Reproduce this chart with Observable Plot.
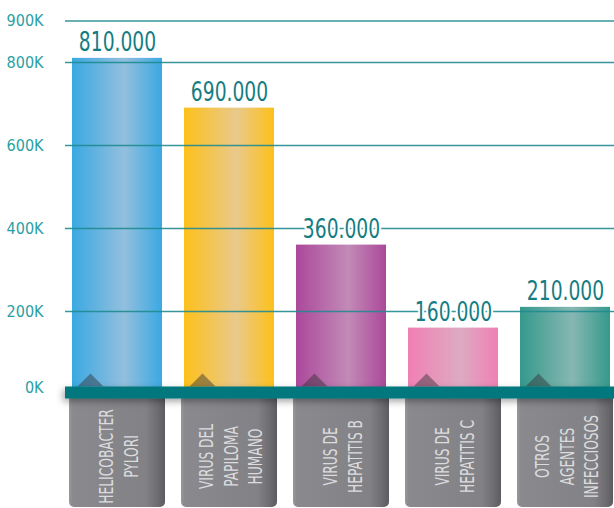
<!DOCTYPE html>
<html><head><meta charset="utf-8">
<script src="https://cdn.jsdelivr.net/npm/d3@7"></script>
<script src="https://cdn.jsdelivr.net/npm/@observablehq/plot@0.6"></script>
<style>body{margin:0;background:#fff} svg{display:block}</style>
</head><body><div id="chart"></div>
<script>
const categories = ["HELICOBACTER\nPYLORI", "VIRUS DEL\nPAPILOMA\nHUMANO", "VIRUS DE\nHEPATITIS B", "VIRUS DE\nHEPATITIS C", "OTROS\nAGENTES\nINFECCIOSOS"];
const values = [810000, 690000, 360000, 160000, 210000];
const valueLabels = ["810.000", "690.000", "360.000", "160.000", "210.000"];
const yTicks = [0, 200000, 400000, 600000, 800000, 900000];
const yTickLabels = ["0K", "200K", "400K", "600K", "800K", "900K"];
const barEdgeColors = ["#3aa9e2", "#fdc01a", "#ac489b", "#f07fb4", "#34998c"];
const barCenterColors = ["#93bfdd", "#e9c98c", "#c28ab6", "#ddabc2", "#87b7b2"];

const data = categories.map((c, i) => ({name: c, value: values[i], label: valueLabels[i], grad: `url(#barGrad${i})`}));
const ticks = yTicks.map((t, i) => ({t, label: yTickLabels[i]}));

const FONT = "'DejaVu Sans Condensed','Liberation Sans Narrow',sans-serif";
const BOX_BOTTOM = -272000; // decorative label tabs extend below the baseline

const flatTriangle = {
  draw(context, size) {
    const r = Math.sqrt(size / Math.PI);
    context.moveTo(0, -r);
    context.lineTo(2 * r, r);
    context.lineTo(-2 * r, r);
    context.closePath();
  }
};

const svg = Plot.plot({
  width: 614,
  height: 508,
  marginLeft: 65,
  marginRight: 0,
  marginTop: 0,
  marginBottom: 0,
  style: {fontFamily: FONT, background: "#fff"},
  x: {type: "band", domain: categories, range: [61, 621], paddingInner: 0.2, paddingOuter: 0.1, axis: null},
  y: {domain: [0, 900000], range: [394, 20.5], axis: null},
  color: {type: "identity"},
  marks: [
    Plot.barY(data, {x: "name", y1: 0, y2: () => BOX_BOTTOM, fill: "url(#boxGrad)", insetLeft: -3, insetRight: -3, rx: 5}),
    Plot.barY(data, {x: "name", y: "value", fill: "grad"}),
    Plot.dot(data, {x: "name", y: 0, symbol: flatTriangle, r: 6.5, dx: -27, dy: -14.5, fill: "#2f2f33", fillOpacity: 0.45, stroke: null}),
    Plot.ruleY(yTicks.filter(t => t > 0), {stroke: "#1f8b90", strokeWidth: 1.3, strokeOpacity: 0.9}),
    Plot.ruleY([0], {stroke: "#00787e", strokeWidth: 12, dy: -2, ariaDescription: "band"}),
    Plot.text(ticks.filter(d => d.t > 0), {y: "t", text: "label", frameAnchor: "left", textAnchor: "end", dx: -22, fill: "#2aa0a4", fontSize: 16}),
    Plot.text(ticks.filter(d => d.t === 0), {y: "t", text: "label", frameAnchor: "left", textAnchor: "end", dx: -22, dy: -7, fill: "#2aa0a4", fontSize: 16}),
    Plot.text(data, {x: "name", y: "value", text: "label", lineAnchor: "bottom", dy: -7, fill: "#147c82", fontSize: 26, stroke: "white", strokeWidth: 5, ariaDescription: "value-labels"}),
    Plot.text(data, {x: "name", frameAnchor: "bottom", dy: -52, text: "name", rotate: -90, textAnchor: "middle", lineAnchor: "middle", lineHeight: 1.25, fill: "#dcdcdf", fontSize: 20, ariaDescription: "category-labels"})
  ]
});

const s = d3.select(svg);
const defs = s.insert("defs", ":first-child");
barEdgeColors.forEach((edge, i) => {
  const g = defs.append("linearGradient").attr("id", `barGrad${i}`).attr("x1", 0).attr("x2", 1).attr("y1", 0).attr("y2", 0);
  g.append("stop").attr("offset", 0).attr("stop-color", edge);
  g.append("stop").attr("offset", 0.58).attr("stop-color", barCenterColors[i]);
  g.append("stop").attr("offset", 1).attr("stop-color", edge);
});
const bg = defs.append("linearGradient").attr("id", "boxGrad").attr("x1", 0).attr("x2", 1).attr("y1", 0).attr("y2", 0);
[[0, "#98989b"], [0.04, "#8a8a8e"], [0.8, "#828286"], [0.93, "#6c6c70"], [1, "#5c5c60"]].forEach(([o, c]) => bg.append("stop").attr("offset", o).attr("stop-color", c));
const f = defs.append("filter").attr("id", "bandShadow").attr("filterUnits", "userSpaceOnUse").attr("x", 0).attr("y", 0).attr("width", 614).attr("height", 508);
f.append("feDropShadow").attr("dx", -2).attr("dy", 3).attr("stdDeviation", 3.5).attr("flood-color", "#000").attr("flood-opacity", 0.35);
s.select('g[aria-description="band"]').attr("filter", "url(#bandShadow)");

// condense text horizontally along its own reading direction
function condense(selector, sx) {
  s.selectAll(selector).each(function () {
    const t = this.getAttribute("transform");
    if (t) {
      this.setAttribute("transform", t + ` scale(${sx},1)`);
    } else {
      const x = +(this.getAttribute("x") || 0);
      this.setAttribute("transform", `translate(${x},0) scale(${sx},1) translate(${-x},0)`);
    }
  });
}
condense('g[aria-description="category-labels"] text', 0.68);
condense('g[aria-description="value-labels"] text', 0.8);
document.getElementById("chart").appendChild(svg);
</script>
</body></html>
